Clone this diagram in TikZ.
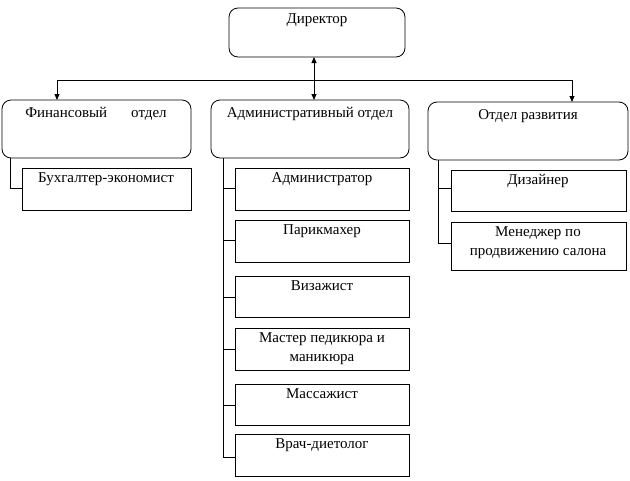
\documentclass[tikz,border=0pt]{standalone}
\usepackage{fontspec}
\setmainfont{Liberation Serif}
\usetikzlibrary{arrows.meta}
\begin{document}
\begin{tikzpicture}[x=1pt,y=-1pt,
  rbox/.style={draw,rounded corners=9pt,line width=0.8pt},
  sbox/.style={draw,line width=0.8pt},
  lab/.style={font=\fontsize{15}{19}\selectfont,align=center,anchor=north,inner sep=2pt},
  ln/.style={line width=0.8pt},
  ar/.style={ln,-{Triangle[length=6pt,width=5pt]}}]
\useasboundingbox (0,0) rectangle (630,480);
\draw[rbox] (229,8) rectangle (405,57); \node[lab] (dir) at (317,11) {Директор};
\coordinate (dirb) at (314,57);
\draw[rbox] (2,100) rectangle (191,158); \node[lab] (fin) at (96,105) {Финансовый\hspace{1.6em}отдел};
\draw[rbox] (211,100) rectangle (409,158); \node[lab] (adm) at (310,105) {Административный отдел};
\draw[rbox] (428,102) rectangle (628,160); \node[lab] (dev) at (528,107) {Отдел развития};
\coordinate (admt) at (314,100);
\coordinate (fint) at (57,100);
\coordinate (devt) at (572,102);
\draw[ln] (57,80) -- (572,80);
\draw[ar] (57,80) -- (fint);
\draw[ar] (572,80) -- (devt);
\draw[ln,{Triangle[length=6pt,width=5pt]}-{Triangle[length=6pt,width=5pt]}] (dirb) -- (admt);
% finance
\draw[sbox] (22,168) rectangle (191,210); \node[lab] (b1) at (106,170) {Бухгалтер-экономист};
\draw[ln] (10,158) -- (10,188) -- (22,188);
% admin
\draw[ln] (223,158) -- (223,457);
\foreach \t/\b/\m/\txt/\n in {168/210/188/Администратор/a1, 220/262/240/Парикмахер/a2, 276/317/297/Визажист/a3, 328/370/349/{Мастер педикюра и\\маникюра}/a4, 384/425/405/Массажист/a5, 434/476/457/Врач-диетолог/a6}{
  \draw[sbox] (235,\t) rectangle (409,\b);
  \node[lab] (\n) at (322,\t+2) {\txt};
  \draw[ln] (223,\m) -- (235,\m);
}
% development
\draw[ln] (438,160) -- (438,243);
\draw[sbox] (451,170) rectangle (626,211); \node[lab] (d1) at (538,172) {Дизайнер};
\draw[ln] (438,188) -- (451,188);
\draw[sbox] (451,222) rectangle (626,270); \node[lab] (d2) at (538,224) {Менеджер по\\продвижению салона};
\draw[ln] (438,243) -- (451,243);
\end{tikzpicture}
\end{document}
